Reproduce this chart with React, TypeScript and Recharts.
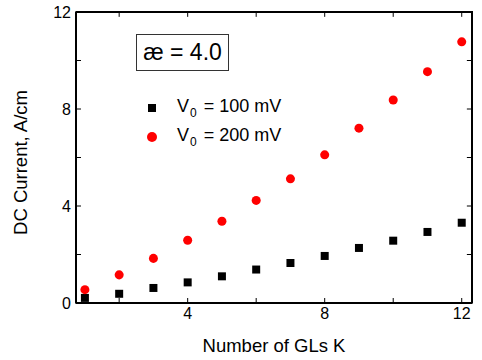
import {
  Label,
  Legend,
  ReferenceArea,
  ReferenceLine,
  Scatter,
  ScatterChart,
  XAxis,
  YAxis,
  ZAxis,
} from "recharts";

const CHART_WIDTH = 482;
const CHART_HEIGHT = 360;
const MARGIN = { top: 12, right: 10, bottom: 0, left: 0 };
const Y_AXIS_WIDTH = 76;
const X_AXIS_HEIGHT = 57;
const FONT = "Arial, 'Liberation Sans', sans-serif";
const AXIS_COLOR = "#000";

const layers = [1, 2, 3, 4, 5, 6, 7, 8, 9, 10, 11, 12];
const current100 = [0.21, 0.38, 0.62, 0.85, 1.1, 1.38, 1.65, 1.94, 2.27, 2.57, 2.93, 3.31];
const current200 = [0.55, 1.16, 1.84, 2.59, 3.37, 4.23, 5.12, 6.11, 7.21, 8.37, 9.54, 10.77];
const xTicks = [2, 4, 6, 8, 10, 12];
const xLabelled = [4, 8, 12];
const yTicks = [0, 2, 4, 6, 8, 10, 12];
const yLabelled = [0, 4, 8, 12];

const X_DOMAIN: [number, number] = [0.74, 12.3];
const Y_DOMAIN: [number, number] = [0, 12];
// inner tick length on the top / right frame, in data units (~5px)
const TOP_TICK = 0.2;
const RIGHT_TICK = 0.15;

const data100 = layers.map((k, i) => ({ k, j: current100[i] }));
const data200 = layers.map((k, i) => ({ k, j: current200[i] }));

const tickStyle = { fontSize: 16, fill: "#000", fontFamily: FONT };
const titleStyle = { fontSize: 18.5, fill: "#000", fontFamily: FONT };

function LegendContent({ payload }: any) {
  return (
    <div style={{ fontFamily: FONT, fontSize: 18, color: "#000" }}>
      {(payload || []).map((entry: any) => (
        <div
          key={entry.value}
          style={{ display: "flex", alignItems: "center", height: 28.5 }}
        >
          <svg height={10} width={10} style={{ marginRight: 20 }}>
            {entry.type === "square" ? (
              <rect fill={entry.color} height={8} width={8} x={1} y={1} />
            ) : (
              <circle cx={5} cy={5} fill={entry.color} r={5} />
            )}
          </svg>
          <span>
            V<sub style={{ fontSize: 12, verticalAlign: -5, marginLeft: 1, marginRight: 2 }}>0</sub> ={" "}
            {entry.value}
          </span>
        </div>
      ))}
    </div>
  );
}

export default function App() {
  const xMax = X_DOMAIN[1];
  const yMax = Y_DOMAIN[1];
  const plotLeft = MARGIN.left + Y_AXIS_WIDTH;
  const plotTop = MARGIN.top;
  const plotWidth = CHART_WIDTH - plotLeft - MARGIN.right;
  const plotHeight = CHART_HEIGHT - plotTop - MARGIN.bottom - X_AXIS_HEIGHT;
  return (
    <div
      style={{
        position: "absolute",
        left: 0,
        top: 0,
        width: CHART_WIDTH,
        height: CHART_HEIGHT,
        background: "#fff",
      }}
    >
      <ScatterChart height={CHART_HEIGHT} margin={MARGIN} width={CHART_WIDTH}>
        <XAxis
          allowDataOverflow
          axisLine={{ stroke: AXIS_COLOR, strokeWidth: 2 }}
          dataKey="k"
          domain={X_DOMAIN}
          height={X_AXIS_HEIGHT}
          tick={tickStyle}
          tickFormatter={(v: number) => (xLabelled.includes(v) ? String(v) : "")}
          tickLine={{ stroke: AXIS_COLOR }}
          tickMargin={10}
          tickSize={-5}
          ticks={xTicks}
          type="number"
        >
          <Label
            offset={8}
            position="insideBottom"
            style={titleStyle}
            value="Number of GLs K"
          />
        </XAxis>
        <YAxis
          allowDataOverflow
          axisLine={{ stroke: AXIS_COLOR, strokeWidth: 2 }}
          dataKey="j"
          domain={Y_DOMAIN}
          tick={tickStyle}
          tickFormatter={(v: number) => (yLabelled.includes(v) ? String(v) : "")}
          tickLine={{ stroke: AXIS_COLOR }}
          tickMargin={10}
          tickSize={-5}
          ticks={yTicks}
          type="number"
          width={Y_AXIS_WIDTH}
        >
          <Label
            angle={-90}
            dy={5}
            offset={20}
            position="insideLeft"
            style={{ ...titleStyle, textAnchor: "middle" }}
            value="DC Current, A/cm"
          />
        </YAxis>
        <ZAxis range={[100, 100]} zAxisId="sq" />
        <ZAxis range={[79, 79]} zAxisId="ci" />

        {/* plot frame */}
        <ReferenceArea
          fill="none"
          ifOverflow="visible"
          stroke={AXIS_COLOR}
          strokeWidth={1.5}
          x1={X_DOMAIN[0]}
          x2={xMax}
          y1={Y_DOMAIN[0]}
          y2={yMax}
        />

        {/* inner ticks on the top and right frame */}
        {xTicks.map((t) => (
          <ReferenceLine
            ifOverflow="visible"
            key={`tx${t}`}
            segment={[
              { x: t, y: yMax },
              { x: t, y: yMax - TOP_TICK },
            ]}
            stroke={AXIS_COLOR}
          />
        ))}
        {yTicks.map((t) => (
          <ReferenceLine
            ifOverflow="visible"
            key={`ty${t}`}
            segment={[
              { x: xMax, y: t },
              { x: xMax - RIGHT_TICK, y: t },
            ]}
            stroke={AXIS_COLOR}
          />
        ))}

        <Legend
          align="center"
          content={<LegendContent />}
          layout="vertical"
          verticalAlign="middle"
          wrapperStyle={{ left: 147, top: 94, width: 200 }}
        />
        <Scatter
          data={data100}
          fill="#000"
          isAnimationActive={false}
          legendType="square"
          name="100 mV"
          shape="square"
          zAxisId="sq"
        />
        <Scatter
          data={data200}
          fill="#ff0000"
          isAnimationActive={false}
          legendType="circle"
          name="200 mV"
          shape="circle"
          zAxisId="ci"
        />
      </ScatterChart>
      {/* top and right edges of the plot frame */}
      <div
        style={{
          position: "absolute",
          left: plotLeft,
          top: plotTop - 1,
          width: plotWidth + 1,
          height: plotHeight + 1,
          borderTop: `2px solid ${AXIS_COLOR}`,
          borderRight: `2px solid ${AXIS_COLOR}`,
          pointerEvents: "none",
          boxSizing: "border-box",
        }}
      />
      <div
        style={{
          position: "absolute",
          left: 136,
          top: 34,
          width: 91,
          height: 35,
          border: "1px solid #333",
          fontFamily: FONT,
          fontSize: 23,
          lineHeight: "35px",
          textAlign: "center",
          color: "#000",
        }}
      >
        æ = 4.0
      </div>
    </div>
  );
}
